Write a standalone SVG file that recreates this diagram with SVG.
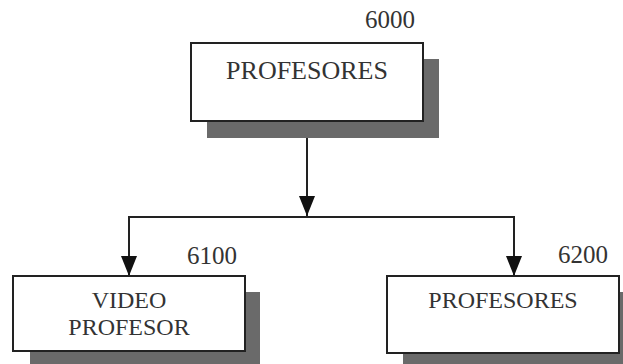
<svg xmlns="http://www.w3.org/2000/svg" width="623" height="364" viewBox="0 0 623 364">
<defs>
<style>
.box{fill:#fff;stroke:#222;stroke-width:2}
.sh{fill:#6a6a6a}
.t{font-family:"Liberation Serif","Times New Roman",serif;fill:#333;text-anchor:middle}
.n{font-family:"Liberation Serif","Times New Roman",serif;fill:#333;font-size:25px}
.c{fill:none;stroke:#222;stroke-width:2}
</style>
<marker id="ah" viewBox="0 0 20 16" refX="20" refY="8" markerWidth="20" markerHeight="16" markerUnits="userSpaceOnUse" orient="auto">
<path d="M0,0 L20,8 L0,16 Z" fill="#111"/>
</marker>
</defs>
<rect width="623" height="364" fill="#fff"/>
<g id="connectors">
<line class="c" x1="307" y1="137" x2="307" y2="216" marker-end="url(#ah)"/>
<line class="c" x1="128" y1="217" x2="515" y2="217"/>
<line class="c" x1="129" y1="217" x2="129" y2="276" marker-end="url(#ah)"/>
<line class="c" x1="514" y1="217" x2="514" y2="276" marker-end="url(#ah)"/>
</g>
<g id="n6000">
<rect class="sh" x="207" y="59" width="232" height="79"/>
<rect class="box" x="191" y="43" width="232" height="78"/>
<text class="t" x="307" y="79" font-size="26">PROFESORES</text>
<text class="n" x="365" y="28">6000</text>
</g>
<g id="n6100">
<rect class="sh" x="30" y="292" width="230" height="80"/>
<rect class="box" x="13" y="276" width="232" height="75"/>
<text class="t" x="129" y="308" font-size="24">VIDEO</text>
<text class="t" x="129" y="335" font-size="24">PROFESOR</text>
<text class="n" x="187" y="264">6100</text>
</g>
<g id="n6200">
<rect class="sh" x="403" y="292" width="230" height="80"/>
<rect class="box" x="387" y="276" width="232" height="77"/>
<text class="t" x="503" y="308" font-size="24">PROFESORES</text>
<text class="n" x="558" y="263">6200</text>
</g>
</svg>
